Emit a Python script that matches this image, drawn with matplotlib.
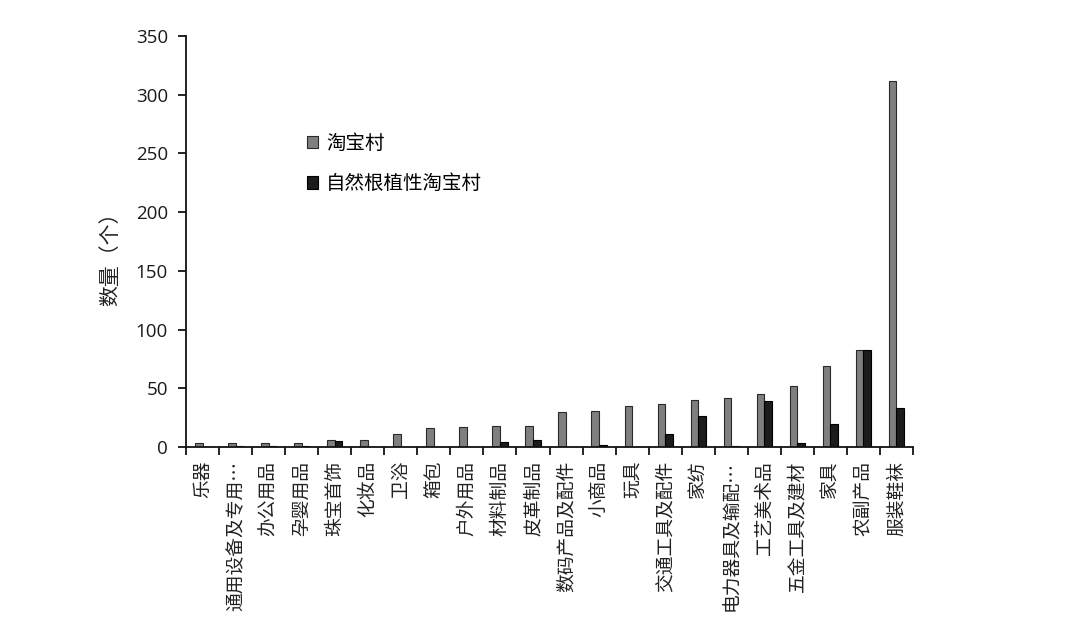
import matplotlib
matplotlib.use("Agg")
import matplotlib.pyplot as plt
import numpy as np

categories = ["乐器", "通用设备及专用…", "办公用品", "孕婴用品", "珠宝首饰", "化妆品", "卫浴", "箱包",
              "户外用品", "材料制品", "皮革制品", "数码产品及配件", "小商品", "玩具", "交通工具及配件",
              "家纺", "电力器具及输配…", "工艺美术品", "五金工具及建材", "家具", "农副产品", "服装鞋袜"]
taobao = [3, 3, 3, 3, 6, 6, 11, 16, 17, 18, 18, 30, 31, 35, 37, 40, 42, 45, 52, 69, 83, 312]
natural = [0, 1, 1, 1, 5, 0, 0, 0, 0, 4, 6, 0, 2, 0, 11, 26, 1, 39, 3, 20, 83, 33]
series_names = ["淘宝村", "自然根植性淘宝村"]
yticks = [0, 50, 100, 150, 200, 250, 300, 350]

plt.rcParams['font.family'] = ['Noto Sans CJK SC', 'DejaVu Sans']

fig = plt.figure(figsize=(10.72, 6.25), dpi=100)
ax = fig.add_axes([0.1735, 0.2848, 0.6782, 0.6576])

x = np.arange(len(categories))
w = 0.23
ax.bar(x - w / 2, taobao, width=w, color="#7f7f7f", edgecolor="#2a2a2a", linewidth=0.8, label=series_names[0])
ax.bar(x + w / 2, natural, width=w, color="#1c1c1c", edgecolor="#000000", linewidth=0.8, label=series_names[1])

ax.set_xlim(-0.5, len(categories) - 0.5)
ax.set_ylim(0, 350)
ax.set_yticks(yticks)
ax.set_yticklabels([str(v) for v in yticks], fontsize=13.5, family=['Open Sans', 'DejaVu Sans'], color="#1a1a1a")
ax.tick_params(axis='y', direction='out', length=6, width=1.2, pad=7)

ax.set_xticks(x)
ax.set_xticklabels(categories, rotation=90, fontsize=13.5, color="#222222")
ax.tick_params(axis='x', which='major', length=0, pad=10)
ax.set_xticks(np.arange(-0.5, len(categories), 1.0), minor=True)
ax.tick_params(axis='x', which='minor', direction='out', length=6, width=1.2)

for s in ["top", "right"]:
    ax.spines[s].set_visible(False)
for s in ["left", "bottom"]:
    ax.spines[s].set_linewidth(1.3)
    ax.spines[s].set_color("#111111")

ax.set_ylabel("数量（个）", fontsize=15, color="#222222")
ax.yaxis.set_label_coords(-0.089, 0.47)

ax.legend(loc="upper left", bbox_to_anchor=(0.142, 0.807), frameon=False, fontsize=14,
          handlelength=0.6, handleheight=0.6, handletextpad=0.4, labelspacing=1.0)

fig.savefig("out.png", dpi=100, facecolor="white")
